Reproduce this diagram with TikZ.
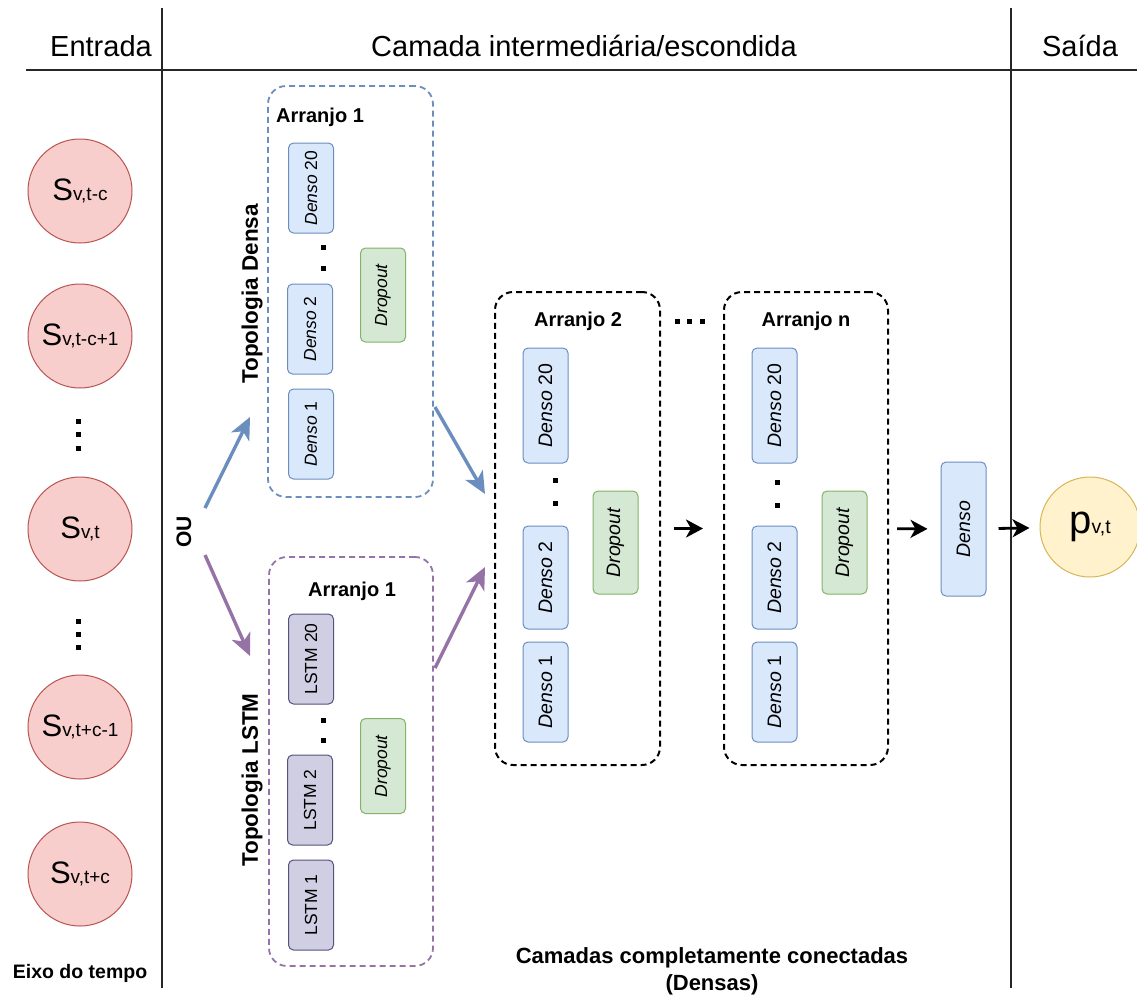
\documentclass[tikz,border=0pt]{standalone}
\usepackage{fontspec}
\setmainfont{Liberation Sans}
\usetikzlibrary{arrows.meta}
\definecolor{bluefill}{HTML}{DAE8FC}
\definecolor{bluedraw}{HTML}{6C8EBF}
\definecolor{greenfill}{HTML}{D5E8D4}
\definecolor{greendraw}{HTML}{82B366}
\definecolor{purpdraw}{HTML}{9673A6}
\definecolor{lstmfill}{HTML}{D0CEE2}
\definecolor{lstmdraw}{HTML}{56517E}
\definecolor{redfill}{HTML}{F8CECC}
\definecolor{reddraw}{HTML}{B85450}
\definecolor{yelfill}{HTML}{FFF2CC}
\definecolor{yeldraw}{HTML}{D6B656}
\newcommand{\fsz}[1]{\fontsize{#1}{#1}\selectfont}
\newcommand{\slab}[1]{{\fsz{31}S}{\fsz{19}#1}}
\begin{document}
\begin{tikzpicture}[x=1pt,y=-1pt,
  sepline/.style={draw=black!85,line width=1.1pt},
  hdr/.style={font=\fsz{29},anchor=base,inner sep=0pt},
  lbl/.style={font=\bfseries\fsz{20},anchor=base,inner sep=0pt},
  vlbl/.style={font=\bfseries\fsz{22.5},rotate=90,inner sep=0pt},
  cont/.style={draw,dash pattern=on 6pt off 4pt,rounded corners=18pt,line width=1.8pt,inner sep=0pt},
  smallbox/.style={rounded corners=5pt,rotate=90,inner sep=0pt,line width=1pt,minimum height=45pt},
  dbox/.style={smallbox,draw=bluedraw,fill=bluefill},
  gbox/.style={smallbox,draw=greendraw,fill=greenfill},
  lbox/.style={smallbox,draw=lstmdraw,fill=lstmfill,font=\fsz{17.5}},
  scirc/.style={circle,draw=reddraw,fill=redfill,minimum size=104pt,inner sep=0pt,line width=1pt},
  pcirc/.style={circle,draw=yeldraw,fill=yelfill,minimum size=100pt,inner sep=0pt,line width=1pt},
  colarr/.style={-{Stealth[length=22pt,width=20pt,inset=6pt]},line width=3.4pt},
  blkarr/.style={-{Stealth[length=17pt,width=18pt,inset=5pt]},line width=2.8pt,draw=black}
]
\useasboundingbox (0,0) rectangle (1137,999);

% separators
\draw[sepline] (162,8) -- (162,988);
\draw[sepline] (1011,8) -- (1011,988);
\draw[sepline] (26,70) -- (1137,70);

% headers
\node[hdr] (hin) at (101,56) {Entrada};
\node[hdr] (hmid) at (584,56) {Camada intermediária/escondida};
\node[hdr] (hout) at (1080,56) {Saída};

% input circles
\node[scirc] (s1) at (80,191) {\slab{v,t-c}};
\node[scirc] (s2) at (80,336) {\slab{v,t-c+1}};
\node[scirc] (s3) at (80,529) {\slab{v,t}};
\node[scirc] (s4) at (80,727) {\slab{v,t+c-1}};
\node[scirc] (s5) at (80,874) {\slab{v,t+c}};
\foreach \yy in {421,434,448,621,634,647}
  \fill (75.5,\yy-2.5) rectangle ++(5,5);
\node[lbl,font=\bfseries\fsz{19.5}] (eixo) at (80,978) {Eixo do tempo};

% OU
\node[vlbl,font=\bfseries\fsz{21}] (ou) at (184,532) {OU};

% Arranjo 1 (densa)
\node[cont,draw=bluedraw,minimum width=165pt,minimum height=411pt] (a1) at (350.5,291.5) {};
\node[lbl] (a1t) at (320,122) {Arranjo 1};
\node[dbox,minimum width=90pt,font=\fsz{17.5}] (d1a) at (311,188) {\textit{Denso} 20};
\node[dbox,minimum width=90pt,font=\fsz{17.5}] (d1b) at (310,329) {\textit{Denso} 2};
\node[dbox,minimum width=90pt,font=\fsz{17.5}] (d1c) at (311,434) {\textit{Denso} 1};
\node[gbox,minimum width=94pt,font=\fsz{17.5}] (dr1) at (383,295) {\textit{Dropout}};
\fill (320.5,244.5) rectangle ++(5,5);
\fill (320.5,265.5) rectangle ++(5,5);
\node[vlbl] (td) at (252,294) {Topologia Densa};

% Arranjo 1 (LSTM)
\node[cont,draw=purpdraw,minimum width=164pt,minimum height=409pt] (l1) at (351,761.5) {};
\node[lbl] (l1t) at (352,596) {Arranjo 1};
\node[lbox,minimum width=90pt] (ls1) at (311,659) {LSTM 20};
\node[lbox,minimum width=90pt] (ls2) at (310,800) {LSTM 2};
\node[lbox,minimum width=90pt] (ls3) at (311,905) {LSTM 1};
\node[gbox,minimum width=95pt,font=\fsz{17.5}] (dr2) at (383,766) {\textit{Dropout}};
\fill (320.5,717.5) rectangle ++(5,5);
\fill (320.5,737.5) rectangle ++(5,5);
\node[vlbl] (tl) at (252,780) {Topologia LSTM};

% Arranjo 2
\node[cont,draw=black,line width=2pt,minimum width=165pt,minimum height=473pt] (a2) at (577.5,528.5) {};
\node[lbl] (a2t) at (578,326) {Arranjo 2};
\node[dbox,minimum width=115pt,font=\fsz{19.5}] (d2a) at (545.5,405.5) {\textit{Denso} 20};
\node[dbox,minimum width=103pt,font=\fsz{19.5}] (d2b) at (545.5,577.5) {\textit{Denso} 2};
\node[dbox,minimum width=100pt,font=\fsz{19.5}] (d2c) at (545.5,692) {\textit{Denso} 1};
\node[gbox,minimum width=103pt,font=\fsz{19.5}] (dr3) at (615.5,542.5) {\textit{Dropout}};
\fill (552.5,477.5) rectangle ++(5,5);
\fill (552.5,500.5) rectangle ++(5,5);
\foreach \xx in {677,689.5,702}
  \fill (\xx-2.5,318.5) rectangle ++(5,5);

% Arranjo n
\node[cont,draw=black,line width=2pt,minimum width=164pt,minimum height=473pt] (an) at (806,528.5) {};
\node[lbl] (ant) at (806,326) {Arranjo n};
\node[dbox,minimum width=115pt,font=\fsz{19.5}] (dna) at (774.5,405.5) {\textit{Denso} 20};
\node[dbox,minimum width=103pt,font=\fsz{19.5}] (dnb) at (774.5,577.5) {\textit{Denso} 2};
\node[dbox,minimum width=100pt,font=\fsz{19.5}] (dnc) at (774.5,692) {\textit{Denso} 1};
\node[gbox,minimum width=103pt,font=\fsz{19.5}] (dr4) at (844.5,542.5) {\textit{Dropout}};
\fill (774.5,479.5) rectangle ++(5,5);
\fill (774.5,502.5) rectangle ++(5,5);

% output
\node[dbox,minimum width=134pt,font=\fsz{19.5}] (dout) at (963.5,529) {\textit{Denso}};
\node[pcirc] (pout) at (1090,527) {{\fsz{40}p}{\fsz{19.5}v,t}};

% bottom caption
\node[font=\bfseries\fsz{22},align=center,inner sep=0pt] (cap) at (712,971) {Camadas completamente conectadas\\[5pt](Densas)};

% connectors
\coordinate (ouT) at (205,508);
\coordinate (ouB) at (205,555);
\coordinate (a1in) at (250,417);
\coordinate (l1in) at (250,656);
\coordinate (a1out) at (435,407);
\coordinate (l1out) at (435,668);
\coordinate (a2inT) at (485,494);
\coordinate (a2inB) at (485,567);
\draw[colarr,draw=bluedraw,fill=bluedraw] (ouT) -- (a1in);
\draw[colarr,draw=purpdraw,fill=purpdraw] (ouB) -- (l1in);
\draw[colarr,draw=bluedraw,fill=bluedraw] (a1out) -- (a2inT);
\draw[colarr,draw=purpdraw,fill=purpdraw] (l1out) -- (a2inB);
\draw[blkarr,shorten <=13pt,shorten >=20pt] (a2) -- (an);
\draw[blkarr,shorten <=8pt,shorten >=13pt] (an) -- (dout);
\draw[blkarr,shorten <=12pt,shorten >=10pt] (dout) -- (pout);
\end{tikzpicture}
\end{document}
